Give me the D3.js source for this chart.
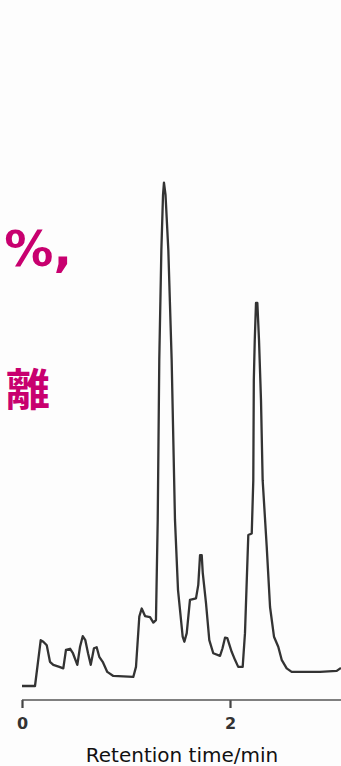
<!DOCTYPE html>
<html>
<head>
<meta charset="utf-8">
<script src="https://d3js.org/d3.v7.min.js"></script>
<style>
  html, body { margin: 0; padding: 0; background: #fdfdfd; }
  svg { display: block; }
</style>
</head>
<body>
<div id="chart"></div>
<script>
// Retention time (min) and detector signal (relative, main peak = 100)
const times = [0, 0.125, 0.180, 0.205, 0.238, 0.269, 0.301, 0.359, 0.397, 0.423,
  0.462, 0.488, 0.532, 0.558, 0.584, 0.609, 0.635, 0.661, 0.692, 0.718,
  0.743, 0.776, 0.820, 0.878, 1.070, 1.096, 1.128, 1.151, 1.183, 1.231,
  1.263, 1.288, 1.305, 1.320, 1.340, 1.356, 1.365, 1.380, 1.407, 1.439,
  1.471, 1.500, 1.545, 1.561, 1.584, 1.615, 1.673, 1.695, 1.712, 1.728,
  1.738, 1.769, 1.801, 1.839, 1.904, 1.928, 1.952, 1.974, 2.016, 2.048,
  2.079, 2.122, 2.144, 2.176, 2.209, 2.224, 2.229, 2.238, 2.250, 2.263,
  2.279, 2.298, 2.314, 2.353, 2.385, 2.423, 2.464, 2.497, 2.545, 2.593,
  2.865, 3.026, 3.067];
const signal = [0, 0, 9.1, 8.8, 8.1, 4.8, 4.2, 3.8, 3.5, 7.2,
  7.4, 6.6, 4.2, 7.8, 9.9, 9.1, 6.5, 4.2, 7.5, 7.7,
  5.8, 4.8, 2.8, 2.0, 1.8, 3.8, 13.8, 15.4, 13.9, 13.7,
  12.6, 13.1, 33.0, 64.8, 86.6, 97.6, 100, 97.6, 86.6, 64.8,
  33.0, 19.1, 9.8, 8.8, 10.5, 17.1, 17.4, 20.1, 26.0, 26.0,
  22.5, 16.5, 9.1, 6.5, 6.0, 7.5, 9.6, 9.5, 6.8, 5.2,
  3.8, 3.8, 10.5, 30.0, 30.3, 40.9, 60.8, 68.7, 76.1, 76.1,
  68.7, 56.8, 40.9, 27.7, 15.7, 9.8, 7.8, 5.2, 3.5, 2.8,
  2.8, 3.0, 3.6];
const tickValues = [0, 2];
const xLabel = "Retention time/min";

const chart = { width: 341, height: 766 };

const svg = d3.select("#chart")
  .append("svg")
  .attr("width", chart.width)
  .attr("height", chart.height);

svg.append("rect")
  .attr("width", chart.width)
  .attr("height", chart.height)
  .attr("fill", "#fdfdfd");

// scales
const x = d3.scaleLinear()
  .domain([0, 2])
  .range([22, 230]);

const y = d3.scaleLinear()
  .domain([0, 100])
  .range([686, 182.7]);

// overlaid slide text
svg.append("text")
  .attr("x", 72)
  .attr("y", 266)
  .attr("text-anchor", "end")
  .attr("font-family", "DejaVu Sans, sans-serif")
  .attr("font-weight", "bold")
  .attr("font-size", "49px")
  .attr("fill", "#c8006f")
  .text("%,");

svg.append("text")
  .attr("x", 50)
  .attr("y", 406)
  .attr("text-anchor", "end")
  .attr("font-family", "Noto Sans CJK JP, sans-serif")
  .attr("font-weight", "bold")
  .attr("font-size", "44px")
  .attr("fill", "#c8006f")
  .text("離");

// axis
const axis = svg.append("g")
  .attr("transform", "translate(0,700)")
  .call(d3.axisBottom(x).tickValues(tickValues).tickSize(8).tickFormat(d3.format("d")));

axis.select(".domain").remove();
axis.append("line")
  .attr("x1", x(0))
  .attr("x2", chart.width)
  .attr("stroke", "#555")
  .attr("stroke-width", 1.6);

axis.selectAll(".tick line")
  .attr("stroke", "#444")
  .attr("stroke-width", 2.2);

axis.selectAll(".tick text")
  .attr("y", 18)
  .attr("font-family", "DejaVu Sans, sans-serif")
  .attr("font-weight", "bold")
  .attr("font-size", "16px")
  .attr("fill", "#333");

svg.append("text")
  .attr("x", 182)
  .attr("y", 762)
  .attr("text-anchor", "middle")
  .attr("font-family", "DejaVu Sans, sans-serif")
  .attr("font-size", "20px")
  .attr("fill", "#111")
  .text(xLabel);

// chromatogram trace
const line = d3.line()
  .x((d, i) => x(times[i]))
  .y(d => y(d));

svg.append("path")
  .datum(signal)
  .attr("d", line)
  .attr("fill", "none")
  .attr("stroke", "#333")
  .attr("stroke-width", 2.3)
  .attr("stroke-linejoin", "round");
</script>
</body>
</html>
